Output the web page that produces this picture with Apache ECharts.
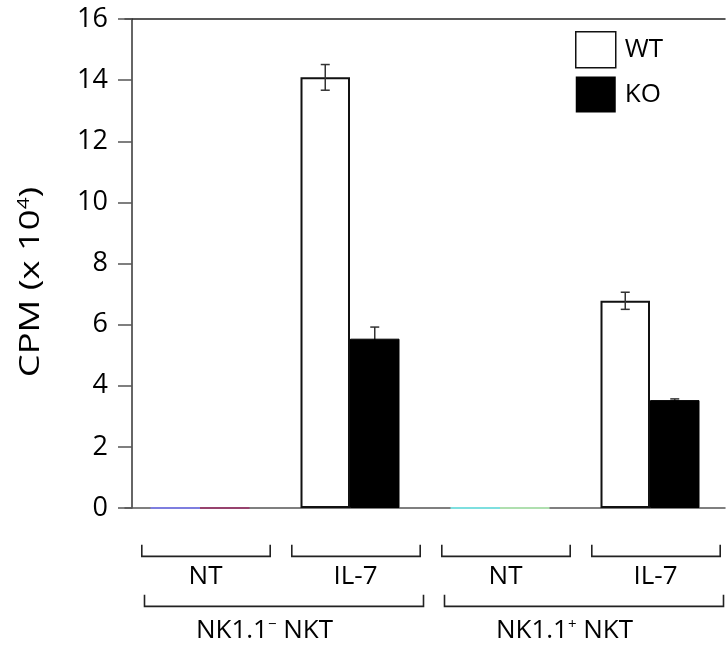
<!DOCTYPE html>
<html>
<head>
<meta charset="utf-8">
<style>html,body{margin:0;padding:0;background:#fff}#c{width:728px;height:647px}</style>
<script src="https://cdn.jsdelivr.net/npm/echarts@6/dist/echarts.min.js"></script>
</head>
<body>
<div id="c"></div>
<script>
// ---- data ----
const categories = ['NT', 'IL-7', 'NT', 'IL-7'];
const groupLabels = ['NK1.1⁻ NKT', 'NK1.1⁺ NKT'];
const groupSpans = [[0, 1], [2, 3]];
const seriesNames = ['WT', 'KO'];
const wtValues = [0, 14.09, 0, 6.78];
const koValues = [0, 5.54, 0, 3.53];
const wtErr = [0, 0.42, 0, 0.28];
const koErr = [0, 0.38, 0, 0.04];
const yMin = 0, yMax = 16, yStep = 2;
const yTitle = 'CPM (x 10{sup|4})';

// ---- styles ----
const FONT = 'Open Sans';
const ntColorsWT = ['#7f7fff', null, '#7fffff', null];
const ntColorsKO = ['#a0306a', null, '#c0ffc0', null];

const chart = echarts.init(document.getElementById('c'));

function barItems(vals, base, nt) {
  return vals.map((v, i) => {
    if (nt[i]) {
      return { value: v, itemStyle: { color: nt[i], borderColor: nt[i], borderWidth: 1.5 } };
    }
    return { value: v, itemStyle: base };
  });
}

function errRender(side) {
  return function (params, api) {
    const cat = api.value(0), v = api.value(1), e = api.value(2);
    if (!e) return null;
    const band = api.size([1, 0])[0];
    const bw = band * 0.33;
    const top = api.coord([cat, v + e]);
    const bot = api.coord([cat, v - e]);
    const x = top[0] + side * bw / 2;
    const cap = 4.5;
    const st = { stroke: '#333', lineWidth: 1.5, fill: null };
    return {
      type: 'group',
      children: [
        { type: 'line', shape: { x1: x, y1: top[1], x2: x, y2: bot[1] }, style: st },
        { type: 'line', shape: { x1: x - cap, y1: top[1], x2: x + cap, y2: top[1] }, style: st },
        { type: 'line', shape: { x1: x - cap, y1: bot[1], x2: x + cap, y2: bot[1] }, style: st }
      ]
    };
  };
}

const supRich = { sup: { fontSize: 15, fontFamily: FONT, color: '#000', padding: [0, 0, 12, 0] } };
function toRich(s) {
  return s.replace('⁻', '{sup|−}').replace('⁺', '{sup|+}');
}

const option = {
  animation: false,
  backgroundColor: '#fff',
  textStyle: { fontFamily: FONT },
  grid: { left: 125, right: 3, top: 19, bottom: 139, containLabel: false },
  graphic: [
    {
      type: 'text', x: 31, y: 282, rotation: Math.PI / 2, scaleX: 1.3, silent: true,
      style: {
        text: yTitle, align: 'center', verticalAlign: 'middle',
        fontSize: 28, fontFamily: FONT, fill: '#000',
        rich: { sup: { fontSize: 16, fontFamily: FONT, fill: '#000', padding: [0, 0, 13, 0] } }
      }
    }
  ],
  legend: {
    orient: 'vertical', left: 575, top: 31, padding: 0,
    itemWidth: 40, itemHeight: 36, itemGap: 8,
    icon: 'rect',
    data: [
      { name: 'WT', itemStyle: { color: '#fff', borderColor: '#111', borderWidth: 1.5 } },
      { name: 'KO', itemStyle: { color: '#000', borderColor: '#000', borderWidth: 0 } }
    ],
    textStyle: { fontSize: 26, color: '#000', fontFamily: FONT, padding: [0, 0, 0, 4] }
  },
  xAxis: [
    {
      type: 'category', data: categories, position: 'bottom',
      axisLine: { lineStyle: { color: '#555', width: 1.5 } },
      axisTick: { show: false }, axisLabel: { show: false }, splitLine: { show: false }
    },
    {
      type: 'category', data: categories, position: 'top',
      axisLine: { lineStyle: { color: '#222', width: 1.5 } },
      axisTick: { show: false }, axisLabel: { show: false }, splitLine: { show: false }
    }
  ],
  yAxis: {
    type: 'value', min: yMin, max: yMax, interval: yStep, offset: -7,
    axisLine: { show: true, lineStyle: { color: '#333', width: 1.5 } },
    axisTick: { show: true, length: 14, lineStyle: { color: '#555', width: 1.5 } },
    axisLabel: { fontSize: 27, color: '#000', fontFamily: FONT, margin: 24 },
    splitLine: { show: false }
  },
  series: [
    {
      name: seriesNames[0], type: 'bar', barWidth: '33%', barGap: '0%',
      itemStyle: { color: '#fff', borderColor: '#111', borderWidth: 2 },
      data: barItems(wtValues, { color: '#fff', borderColor: '#111', borderWidth: 2 }, ntColorsWT)
    },
    {
      name: seriesNames[1], type: 'bar', barWidth: '33%', barGap: '0%',
      itemStyle: { color: '#000', borderColor: '#000', borderWidth: 0 },
      data: barItems(koValues, { color: '#000', borderColor: '#000', borderWidth: 1 }, ntColorsKO)
    },
    {
      type: 'custom', renderItem: errRender(-1), z: 5, silent: true,
      encode: { x: 0, y: 1 },
      data: categories.map((c, i) => [i, wtValues[i], wtErr[i]])
    },
    {
      type: 'custom', renderItem: errRender(1), z: 1, silent: true,
      encode: { x: 0, y: 1 },
      data: categories.map((c, i) => [i, koValues[i], koErr[i]])
    },
    {
      type: 'custom', silent: true, clip: false,
      encode: { x: 0, y: 1 },
      data: categories.map((c, i) => [i, 0]),
      renderItem: function (params, api) {
        const i = api.value(0);
        const p = api.coord([i, 0]);
        const band = api.size([1, 0])[0];
        const cx = p[0] + band * 0.04;
        const hw = band * 0.428;
        const y0 = p[1];
        return {
          type: 'group',
          children: [
            {
              type: 'polyline',
              shape: { points: [[cx - hw, y0 + 36.7], [cx - hw, y0 + 48.4], [cx + hw, y0 + 48.4], [cx + hw, y0 + 36.7]] },
              style: { stroke: '#222', lineWidth: 1.6, fill: null }
            },
            {
              type: 'text',
              style: {
                text: categories[params.dataIndex], x: p[0] + band * 0.037, y: y0 + 68.5,
                align: 'center', verticalAlign: 'middle',
                fontSize: 26, fontFamily: FONT, fill: '#000'
              }
            }
          ]
        };
      }
    },
    {
      type: 'custom', silent: true, clip: false,
      encode: { x: 0, y: 2 },
      data: groupSpans.map((g) => [g[0], g[1], 0]),
      renderItem: function (params, api) {
        const a = api.coord([api.value(0), 0]);
        const b = api.coord([api.value(1), 0]);
        const band = api.size([1, 0])[0];
        const xl = a[0] - band * 0.37;
        const xr = b[0] + band * 0.49;
        const y0 = a[1];
        const mid = (a[0] + b[0]) / 2 - band * 0.07;
        return {
          type: 'group',
          children: [
            {
              type: 'polyline',
              shape: { points: [[xl, y0 + 86.7], [xl, y0 + 98.4], [xr, y0 + 98.4], [xr, y0 + 86.7]] },
              style: { stroke: '#222', lineWidth: 1.6, fill: null }
            },
            {
              type: 'text',
              style: {
                text: toRich(groupLabels[params.dataIndex]), x: mid, y: y0 + 122.5,
                align: 'center', verticalAlign: 'middle',
                fontSize: 26, fontFamily: FONT, fill: '#000', rich: supRich
              }
            }
          ]
        };
      }
    }
  ]
};
chart.setOption(option);
</script>
</body>
</html>
